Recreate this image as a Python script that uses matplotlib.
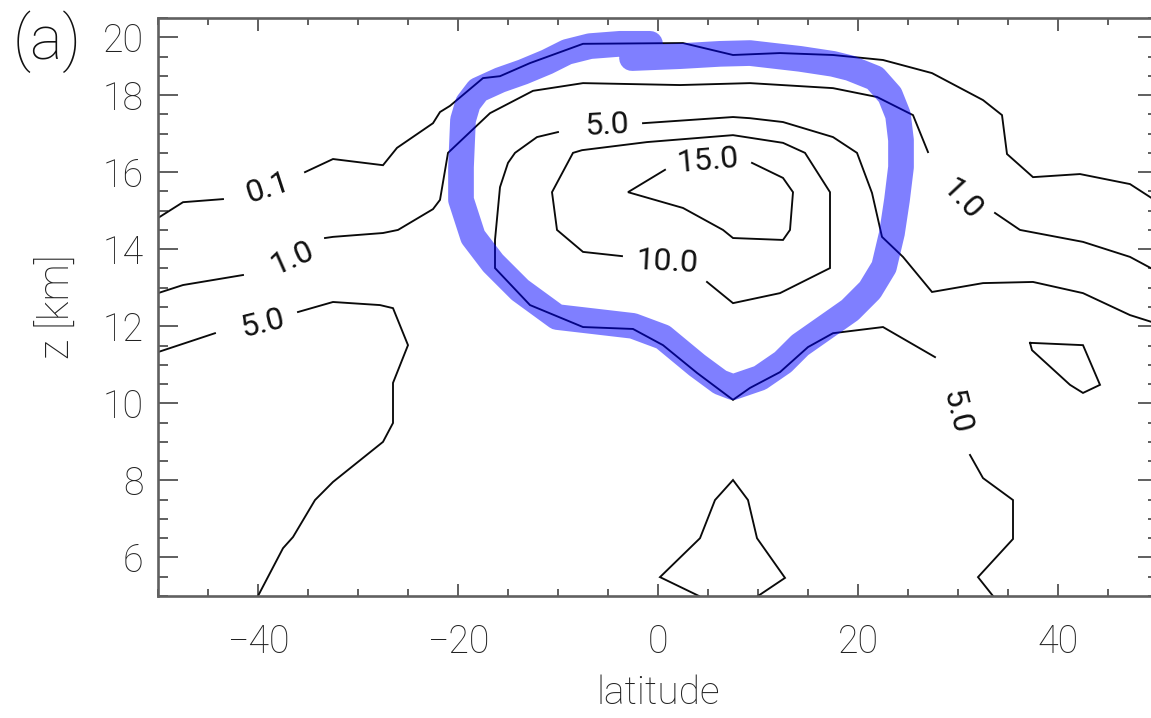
import matplotlib
matplotlib.use("Agg")
import matplotlib.pyplot as plt
import numpy as np

plt.rcParams['font.family'] = ['Roboto', 'DejaVu Sans']

# ---------------- data (latitude [deg], z [km]) ----------------
# contour 0.1 (split at its label)
c01_a_lat = [-50.0, -47.5, -43.5]
c01_a_z = [14.81, 15.22, 15.30]
c01_b_lat = [-35.3, -32.5, -27.5, -26.1, -22.5, -21.8, -20.8, -17.5, -15.8, -12.8, -7.5,
             2.5, 7.5, 12.2, 17.5, 22.5, 27.4, 32.5, 34.4, 34.9, 37.5, 42.2, 47.2, 50.0]
c01_b_z = [16.00, 16.34, 16.18, 16.63, 17.27, 17.56, 17.72, 18.44, 18.49, 18.83, 19.33,
           19.35, 19.04, 19.09, 19.04, 18.91, 18.57, 17.87, 17.48, 16.47, 15.87, 15.95, 15.69, 15.22]

# contour 1.0
c1_a_lat = [-50.0, -47.5, -41.5]
c1_a_z = [12.86, 13.07, 13.33]
c1_b_lat = [-33.3, -32.5, -27.5, -26.0, -22.5, -21.8, -21.0, -18.8, -16.8, -12.5, -7.5,
            2.2, 9.2, 17.5, 21.9, 25.5, 27.0]
c1_b_z = [14.29, 14.32, 14.42, 14.50, 15.04, 15.28, 16.50, 17.04, 17.53, 18.11, 18.31,
          18.26, 18.31, 18.18, 17.95, 17.48, 16.52]
c1_c_lat = [33.7, 36.2, 42.5, 47.2, 50.0]
c1_c_z = [14.94, 14.50, 14.19, 13.80, 13.41]

# contour 5.0, western branch
c5w_a_lat = [-50.0, -44.3]
c5w_a_z = [11.33, 11.82]
c5w_b_lat = [-36.0, -32.5, -27.8, -26.5, -25.0, -26.5, -26.5, -27.5, -32.5, -34.3, -36.5, -37.5, -40.0]
c5w_b_z = [12.37, 12.63, 12.55, 12.47, 11.51, 10.53, 9.49, 9.00, 7.96, 7.49, 6.53, 6.24, 5.00]

# contour 5.0, around the core
c5_a_lat = [50.0, 47.2, 42.5, 37.5, 32.5, 27.4, 24.5, 22.4, 21.4, 19.9, 17.5, 12.5, 9.2, 7.5, -1.5]
c5_a_z = [12.06, 12.29, 12.86, 13.15, 13.12, 12.89, 13.80, 14.32, 15.46, 16.50, 16.91, 17.30, 17.40, 17.43, 17.27]
c5_b_lat = [-10.0, -12.1, -14.3, -15.0, -15.8, -16.3, -16.3, -12.8, -7.5, -2.5, 0.5, 3.9,
            7.5, 9.2, 12.2, 15.0, 17.5, 22.5, 27.7]
c5_b_z = [17.04, 16.91, 16.50, 16.24, 15.61, 14.24, 13.51, 12.55, 11.98, 11.93, 11.51, 10.79,
          10.09, 10.40, 10.81, 11.46, 11.82, 11.98, 11.20]
c5_c_lat = [31.2, 32.5, 35.5, 35.5, 32.0, 33.5]
c5_c_z = [8.66, 8.06, 7.49, 6.48, 5.49, 5.00]

# contour 10.0
c10_lat = [4.9, 7.5, 12.2, 17.2, 17.2, 14.7, 12.5, 7.5, -1.1, -7.6, -8.5, -10.6, -10.1, -7.5, -3.6]
c10_z = [13.15, 12.60, 12.86, 13.51, 15.48, 16.50, 16.76, 16.96, 16.78, 16.57, 16.50, 15.48, 14.50, 13.93, 13.82]

# contour 15.0
c15_lat = [9.4, 12.5, 13.5, 13.2, 12.5, 7.5, 6.5, 2.5, -3.0, 0.7]
c15_z = [16.24, 15.85, 15.48, 14.50, 14.24, 14.29, 14.50, 15.07, 15.48, 16.06]

# small closed contour (east)
cs_lat = [37.2, 42.5, 44.2, 42.5, 41.2, 37.4, 37.2]
cs_z = [11.57, 11.51, 10.48, 10.27, 10.48, 11.38, 11.57]

# low-level contour near the equator
ct_lat = [4.1, 0.2, 4.2, 5.7, 7.5, 9.0, 9.9, 12.7, 10.0]
ct_z = [5.00, 5.49, 6.50, 7.49, 8.01, 7.49, 6.50, 5.47, 5.00]

# hand-drawn highlight loop (blue)
hl_lat = [-2.6, 2.2, 6.2, 9.2, 14.2, 17.5, 19.2, 21.7, 23.2, 24.0, 24.3, 24.3, 23.9, 23.4,
          22.6, 21.2, 19.2, 17.5, 14.2, 12.5, 10.2, 7.5, 6.2, 3.9, 0.5, -2.5, -5.8, -10.1,
          -13.8, -16.5, -18.5, -19.7, -19.7, -19.5, -19.0, -18.0, -15.8, -13.5, -11.1, -9.1,
          -6.8, -3.8, -0.8]
hl_z = [18.96, 19.01, 19.07, 19.09, 18.94, 18.81, 18.70, 18.44, 18.00, 17.48, 16.83, 16.13,
        15.28, 14.42, 13.54, 12.94, 12.42, 12.11, 11.51, 11.07, 10.66, 10.42, 10.55, 10.99,
        11.72, 12.01, 12.11, 12.24, 12.94, 13.64, 14.32, 15.28, 16.13, 17.35, 17.79, 18.13,
        18.39, 18.60, 18.86, 19.12, 19.27, 19.33, 19.33]

# contour labels: text, lat, z, rotation (deg)
lab_text = ['0.1', '1.0', '5.0', '5.0', '15.0', '10.0', '1.0', '5.0']
lab_lat = [-39.0, -36.6, -39.5, -5.1, 5.0, 0.9, 30.4, 29.8]
lab_z = [15.59, 13.77, 12.08, 17.22, 16.29, 13.67, 15.28, 9.77]
lab_rot = [18, 24, 14, 3, 5, -3, -47, -76]

# axis ticks
xtick_major = [-40, -20, 0, 20, 40]
xtick_labels = ['\u221240', '\u221220', '0', '20', '40']
ytick_major = [6, 8, 10, 12, 14, 16, 18, 19.5]
ytick_labels = ['6', '8', '10', '12', '14', '16', '18', '20']

# ---------------- figure ----------------
W, H = 1151, 718
fig = plt.figure(figsize=(W / 100, H / 100), dpi=100)
ax = fig.add_axes([158 / W, 122 / H, 1000 / W, 578 / H])
ax.set_xlim(-50, 50)
ax.set_ylim(5, 20)

line_kw = dict(color='#0a0a0a', lw=1.35, solid_joinstyle='miter', zorder=2)
segments = [(c01_a_lat, c01_a_z), (c01_b_lat, c01_b_z),
            (c1_a_lat, c1_a_z), (c1_b_lat, c1_b_z), (c1_c_lat, c1_c_z),
            (c5w_a_lat, c5w_a_z), (c5w_b_lat, c5w_b_z),
            (c5_a_lat, c5_a_z), (c5_b_lat, c5_b_z), (c5_c_lat, c5_c_z),
            (c10_lat, c10_z), (c15_lat, c15_z), (cs_lat, cs_z), (ct_lat, ct_z)]
for la, zz in segments:
    ax.plot(la, zz, **line_kw)

for t, la, zz, r in zip(lab_text, lab_lat, lab_z, lab_rot):
    ax.text(la, zz, t, rotation=r, rotation_mode='anchor', ha='center', va='center',
            fontsize=23, color='#111111', fontweight='normal', zorder=3)

ax.plot(hl_lat, hl_z, color=(0.0, 0.0, 1.0, 0.5), lw=18.5,
        solid_capstyle='round', solid_joinstyle='round', zorder=4)

# axes styling
for s in ax.spines.values():
    s.set_linewidth(1.9)
    s.set_color('#606060')
ax.set_xticks(xtick_major)
ax.set_xticklabels(xtick_labels)
ax.set_xticks(np.arange(-50, 50.1, 5), minor=True)
ax.set_yticks(ytick_major)
ax.set_yticklabels(ytick_labels)
ax.set_yticks(np.arange(5, 20.01, 0.5), minor=True)
ax.tick_params(axis='both', which='both', direction='in', top=True, right=True,
               color='#444444', width=1.2, labelcolor='#222222', labelsize=27)
ax.tick_params(axis='x', which='major', length=9, pad=20)
ax.tick_params(axis='x', which='minor', length=5)
ax.tick_params(axis='y', which='major', length=14.4, pad=10.5)
ax.tick_params(axis='y', which='minor', length=7.2)
for lab in ax.get_xticklabels() + ax.get_yticklabels():
    lab.set_fontweight('light')

ax.set_xlabel('latitude', fontsize=28, color='#222222', fontweight='light')
ax.xaxis.set_label_coords(0.5, -0.135)
ax.set_ylabel('z [km]', fontsize=30, color='#222222', fontweight='light')
ax.yaxis.set_label_coords(-0.079, 0.5)

fig.text(47 / W, 1 - 42 / H, '(a)', fontsize=44, color='#111111', fontweight='light',
         ha='center', va='center')

fig.savefig('out.png', dpi=100)
